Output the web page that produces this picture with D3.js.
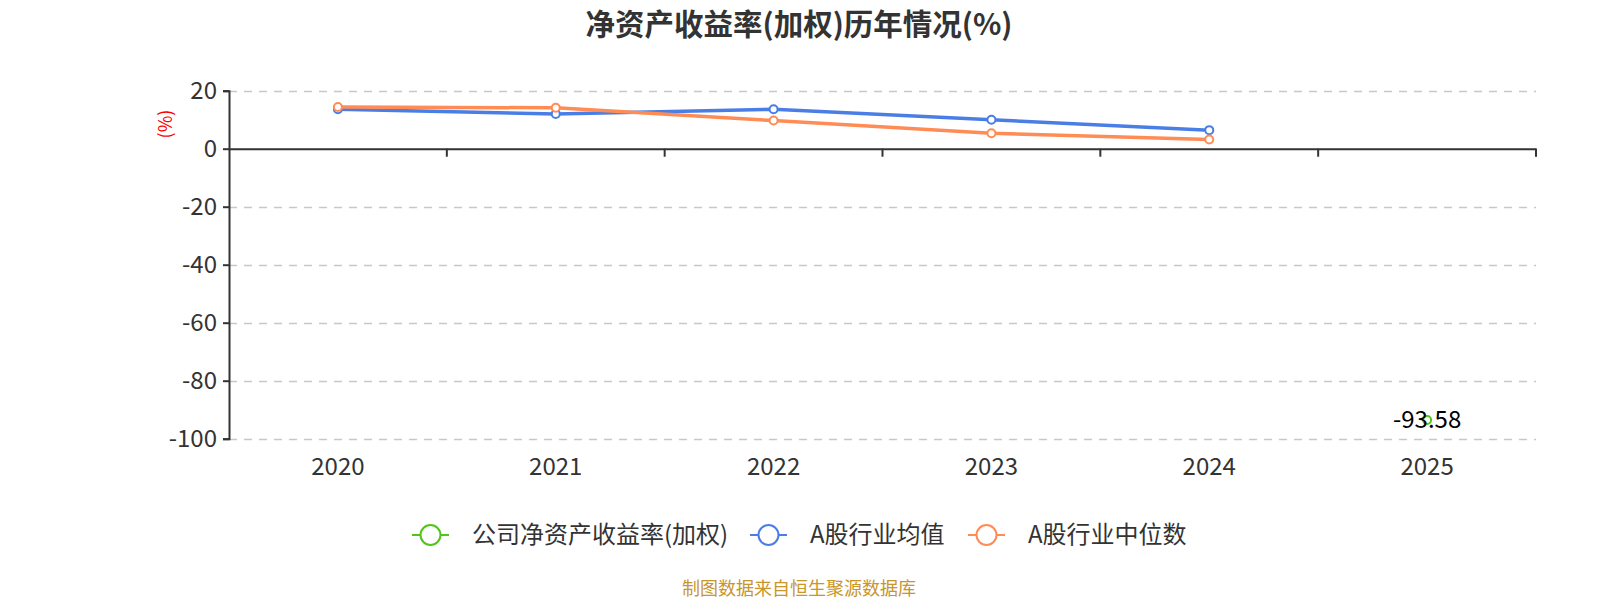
<!DOCTYPE html>
<html>
<head>
<meta charset="utf-8">
<script src="https://cdn.jsdelivr.net/npm/d3@7"></script>
<style>
  body { margin: 0; background: #fff; }
  text { font-family: "Noto Sans CJK SC", "Noto Sans", sans-serif; }
</style>
</head>
<body>
<svg id="chart" width="1600" height="600"></svg>
<script>
var years = ['2020', '2021', '2022', '2023', '2024', '2025'];
var companyRoe = [null, null, null, null, null, -93.58];
var industryAvg = [13.6, 12.0, 13.6, 10.0, 6.4, null];
var industryMedian = [14.4, 14.1, 9.7, 5.3, 3.2, null];
var yTicks = [20, 0, -20, -40, -60, -80, -100];

var series = [
  {name: '公司净资产收益率(加权)', values: companyRoe, color: '#52c41a'},
  {name: 'A股行业均值', values: industryAvg, color: '#4a7ee6'},
  {name: 'A股行业中位数', values: industryMedian, color: '#ff8c55'}
];

var svg = d3.select('#chart');
var mLeft = 229, mRight = 1536, mTop = 90.7, mBottom = 438.7;

var x = d3.scaleBand().domain(years).range([mLeft, mRight]);
var y = d3.scaleLinear().domain([-100, 20]).range([mBottom, mTop]);

// title
svg.append('text')
  .attr('x', 799).attr('y', 34.5)
  .attr('text-anchor', 'middle')
  .style('font-size', '29.5px').style('font-weight', 'bold').style('fill', '#333')
  .text('净资产收益率(加权)历年情况(%)');

// grid lines
svg.append('g').selectAll('line')
  .data(yTicks.filter(function(d) { return d !== 0; }))
  .enter().append('line')
  .attr('x1', mLeft).attr('x2', mRight)
  .attr('y1', function(d) { return Math.round(y(d)) + 0.5; })
  .attr('y2', function(d) { return Math.round(y(d)) + 0.5; })
  .style('stroke', '#c8c8c8').style('stroke-dasharray', '8,7').style('stroke-width', 1.5);

// y axis
var yAxis = svg.append('g')
  .attr('transform', 'translate(' + mLeft + ',0)')
  .call(d3.axisLeft(y).tickValues(yTicks).tickSize(6).tickPadding(6)
    .tickFormat(function(d) { return String(d); }));
yAxis.select('.domain').style('stroke', '#333').style('stroke-width', 2);
yAxis.selectAll('.tick line').style('stroke', '#333').style('stroke-width', 2);
yAxis.selectAll('text').style('font-size', '24px').style('fill', '#333')
  .style('font-family', '"Noto Sans CJK SC", sans-serif');

// x axis on zero line
var xAxis = svg.append('g')
  .attr('transform', 'translate(0,' + y(0) + ')')
  .call(d3.axisBottom(x).tickSize(0).tickSizeOuter(0));
xAxis.select('.domain').style('stroke', '#333').style('stroke-width', 2);
xAxis.selectAll('text').remove();
xAxis.selectAll('.tick line').remove();
xAxis.selectAll('.bnd')
  .data(years.slice(1).concat(['end']))
  .enter().append('line')
  .attr('x1', function(d, i) { return i < years.length - 1 ? x(d) : mRight; })
  .attr('x2', function(d, i) { return i < years.length - 1 ? x(d) : mRight; })
  .attr('y1', 0).attr('y2', 8)
  .style('stroke', '#333').style('stroke-width', 2);

// x labels at bottom
svg.append('g').selectAll('text')
  .data(years).enter().append('text')
  .attr('x', function(d) { return x(d) + x.bandwidth() / 2; })
  .attr('y', 475)
  .attr('text-anchor', 'middle')
  .style('font-size', '24px').style('fill', '#333')
  .text(function(d) { return d; });

// y axis name
svg.append('text')
  .attr('transform', 'translate(172,124) rotate(-90)')
  .attr('text-anchor', 'middle')
  .style('font-size', '18px').style('fill', 'red')
  .text('(%)');

// lines
var line = d3.line()
  .defined(function(d) { return d.v !== null; })
  .x(function(d) { return x(d.year) + x.bandwidth() / 2; })
  .y(function(d) { return y(d.v); });

series.forEach(function(s) {
  var pts = years.map(function(yr, i) { return {year: yr, v: s.values[i]}; });
  svg.append('path')
    .datum(pts)
    .attr('d', line)
    .style('fill', 'none').style('stroke', s.color).style('stroke-width', 3.5);
  svg.append('g').selectAll('circle')
    .data(pts.filter(function(d) { return d.v !== null; }))
    .enter().append('circle')
    .attr('cx', function(d) { return x(d.year) + x.bandwidth() / 2; })
    .attr('cy', function(d) { return y(d.v); })
    .attr('r', 4)
    .style('fill', '#fff').style('stroke', s.color).style('stroke-width', 2);
});

// value label for company
svg.append('text')
  .attr('x', x('2025') + x.bandwidth() / 2)
  .attr('y', y(companyRoe[5]) + 8)
  .attr('text-anchor', 'middle')
  .style('font-size', '24px').style('fill', '#000')
  .text(companyRoe[5].toFixed(2));

// legend
var legendX = [412, 750, 968];
var legend = svg.append('g').selectAll('g')
  .data(series).enter().append('g')
  .attr('transform', function(d, i) { return 'translate(' + legendX[i] + ',535)'; });
legend.append('line')
  .attr('x1', 0).attr('x2', 37).attr('y1', 0).attr('y2', 0)
  .style('stroke', function(d) { return d.color; }).style('stroke-width', 2);
legend.append('circle')
  .attr('cx', 18.5).attr('cy', 0).attr('r', 10)
  .style('fill', '#fff').style('stroke', function(d) { return d.color; }).style('stroke-width', 2);
legend.append('text')
  .attr('x', 60).attr('y', 8)
  .style('font-size', '24px').style('fill', '#333')
  .text(function(d) { return d.name; });

// footer
svg.append('text')
  .attr('x', 799).attr('y', 595)
  .attr('text-anchor', 'middle')
  .style('font-size', '18px').style('fill', '#c8962a')
  .text('制图数据来自恒生聚源数据库');
</script>
</body>
</html>
